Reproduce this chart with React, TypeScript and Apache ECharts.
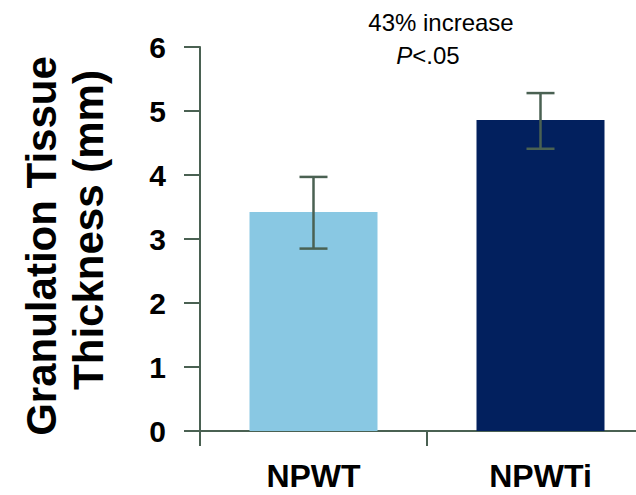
import React, { useEffect, useRef } from 'react';
import * as echarts from 'echarts';

const categories = ['NPWT', 'NPWTi'];
const means = [3.42, 4.86];
const errLow = [2.85, 4.41];
const errHigh = [3.97, 5.28];
const barColors = ['#89C8E3', '#02205E'];
const yMin = 0;
const yMax = 6;
const yInterval = 1;
const yTitleLines = ['Granulation Tissue', 'Thickness (mm)'];
const annotationLine1 = '43% increase';
const annotationItalic = 'P';
const annotationRest = '<.05';

const AXIS_COLOR = '#4a6152';
const FONT = '"Liberation Sans", Arial, Helvetica, sans-serif';

export default function App() {
  const ref = useRef<HTMLDivElement>(null);

  useEffect(() => {
    if (!ref.current) return;
    const chart = echarts.init(ref.current, null, { renderer: 'svg' });

    const errData = categories.map((_, i) => [i, errLow[i], errHigh[i]]);

    chart.setOption({
      animation: false,
      backgroundColor: '#ffffff',
      grid: { left: 200, right: 6, top: 47, bottom: 64, containLabel: false },
      xAxis: {
        type: 'category',
        data: categories,
        boundaryGap: true,
        axisLine: { show: true, lineStyle: { color: AXIS_COLOR, width: 2 } },
        axisTick: { show: true, length: 15, interval: 0, lineStyle: { color: AXIS_COLOR, width: 2 } },
        axisLabel: {
          interval: 0,
          margin: 29,
          color: '#000',
          fontFamily: FONT,
          fontWeight: 'bold',
          fontSize: 32,
        },
        splitLine: { show: false },
      },
      yAxis: {
        type: 'value',
        min: yMin,
        max: yMax,
        interval: yInterval,
        axisLine: { show: true, lineStyle: { color: AXIS_COLOR, width: 2 } },
        axisTick: { show: true, length: 16, lineStyle: { color: AXIS_COLOR, width: 2 } },
        axisLabel: {
          margin: 34,
          color: '#000',
          fontFamily: FONT,
          fontWeight: 'bold',
          fontSize: 30,
        },
        splitLine: { show: false },
      },
      series: [
        {
          type: 'bar',
          barWidth: 128,
          data: means.map((v, i) => ({ value: v, itemStyle: { color: barColors[i] } })),
          z: 2,
        },
        {
          type: 'custom',
          z: 5,
          data: errData,
          renderItem: (params: any, api: any) => {
            const x = api.value(0);
            const lo = api.coord([x, api.value(1)]);
            const hi = api.coord([x, api.value(2)]);
            const half = 14;
            const style = { stroke: AXIS_COLOR, lineWidth: 2.5 };
            return {
              type: 'group',
              children: [
                { type: 'line', shape: { x1: lo[0], y1: lo[1], x2: hi[0], y2: hi[1] }, style },
                { type: 'line', shape: { x1: lo[0] - half, y1: lo[1], x2: lo[0] + half, y2: lo[1] }, style },
                { type: 'line', shape: { x1: hi[0] - half, y1: hi[1], x2: hi[0] + half, y2: hi[1] }, style },
              ],
            };
          },
        },
      ],
      graphic: [
        {
          type: 'text',
          x: 41,
          y: 246,
          rotation: Math.PI / 2,
          style: {
            text: yTitleLines[0],
            fontFamily: FONT,
            fontWeight: 'bold',
            fontSize: 42,
            fill: '#000',
            align: 'center',
            verticalAlign: 'middle',
          },
        },
        {
          type: 'text',
          x: 88,
          y: 230,
          rotation: Math.PI / 2,
          style: {
            text: yTitleLines[1],
            fontFamily: FONT,
            fontWeight: 'bold',
            fontSize: 42,
            fill: '#000',
            align: 'center',
            verticalAlign: 'middle',
          },
        },
        {
          type: 'text',
          x: 441,
          y: 22,
          style: {
            text: annotationLine1,
            fontFamily: FONT,
            fontSize: 24,
            fill: '#000',
            align: 'center',
            verticalAlign: 'middle',
          },
        },
        {
          type: 'text',
          x: 428,
          y: 55,
          style: {
            text: `{i|${annotationItalic}}{n|${annotationRest}}`,
            align: 'center',
            verticalAlign: 'middle',
            rich: {
              i: { fontFamily: FONT, fontSize: 24, fontStyle: 'italic', fill: '#000' },
              n: { fontFamily: FONT, fontSize: 24, fill: '#000' },
            },
          },
        },
      ],
    });

    return () => chart.dispose();
  }, []);

  return (
    <div
      ref={ref}
      style={{ position: 'fixed', left: 0, top: 0, width: 660, height: 495, background: '#fff' }}
    />
  );
}
